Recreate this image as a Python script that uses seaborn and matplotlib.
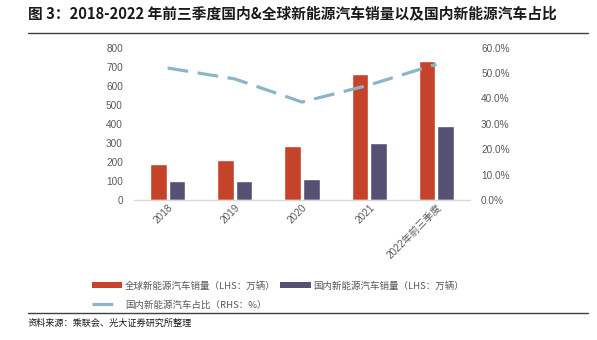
import numpy as np
import pandas as pd
import matplotlib
matplotlib.use("Agg")
import matplotlib.pyplot as plt
import seaborn as sns
from matplotlib.lines import Line2D
from matplotlib.patches import Patch
from matplotlib.ticker import FixedLocator, FuncFormatter

categories = ["2018", "2019", "2020", "2021", "2022年前三季度"]
global_sales = [189, 210, 285, 660, 728]
domestic_sales = [98, 100, 110, 299, 388]
domestic_share = [52.0, 47.7, 38.6, 45.3, 53.5]

series_global = "全球新能源汽车销量（LHS：万辆）"
series_domestic = "国内新能源汽车销量（LHS：万辆）"
series_share = "国内新能源汽车占比（RHS：%）"

c_red = "#C5432A"
c_purple = "#565073"
c_line = "#8DB5C9"
c_tick = "#595959"

sns.set_theme(style="white")
plt.rcParams["font.family"] = ["Liberation Sans", "Noto Sans CJK SC", "DejaVu Sans"]
cjk = ["Noto Sans CJK SC", "DejaVu Sans"]

df = pd.DataFrame({
    "cat": categories * 2,
    "val": global_sales + domestic_sales,
    "series": [series_global] * len(categories) + [series_domestic] * len(categories),
})

fig = plt.figure(figsize=(5.97, 3.40), dpi=100)
ax = fig.add_axes([134 / 597, 1 - 200 / 340, 336 / 597, 152.3 / 340])

sns.barplot(data=df, x="cat", y="val", hue="series", order=categories,
            palette=[c_red, c_purple], width=0.55, gap=0.1, ax=ax,
            legend=False, saturation=1)
ax.set_xlim(-0.5, len(categories) - 0.5)
ax.set_ylim(0, 800)
ax.set_yticks(range(0, 801, 100))
ax.set_xlabel("")
ax.set_ylabel("")
for s in ["top", "right", "left"]:
    ax.spines[s].set_visible(False)
ax.spines["bottom"].set_color("#D9D9D9")
ax.spines["bottom"].set_linewidth(1.0)
ax.tick_params(axis="y", length=0, labelsize=7.2, labelcolor=c_tick, pad=8)
ax.tick_params(axis="x", which="major", length=0, labelsize=7.2, labelcolor=c_tick, pad=2)
ax.xaxis.set_minor_locator(FixedLocator([0.5, 1.5, 2.5, 3.5]))
ax.tick_params(axis="x", which="minor", length=3, color="#D9D9D9", width=1.0)
for lbl in ax.get_xticklabels():
    lbl.set_rotation(45)
    lbl.set_ha("right")
    lbl.set_rotation_mode("anchor")
    lbl.set_family(["Liberation Sans", "Noto Sans CJK SC"])

ax2 = ax.twinx()
sns.lineplot(x=np.arange(len(categories)), y=domestic_share, ax=ax2,
             color=c_line, linewidth=2.3, dashes=False)
ax2.lines[0].set_dashes([6.5, 3.0])
ax2.set_ylim(0, 60)
ax2.set_yticks(range(0, 61, 10))
ax2.yaxis.set_major_formatter(FuncFormatter(lambda v, p: f"{v:.1f}%"))
ax2.tick_params(axis="y", length=0, labelsize=7.2, labelcolor=c_tick, pad=8)
for s in ["top", "right", "left", "bottom"]:
    ax2.spines[s].set_visible(False)
ax2.set_xlim(-0.5, len(categories) - 0.5)

# Title and rules
fig.text(28 / 597, 1 - 13 / 340, "图 3：2018-2022 年前三季度国内&全球新能源汽车销量以及国内新能源汽车占比",
         fontsize=10.6, fontweight="bold", va="center", ha="left",
         family=cjk, color="#1a1a1a")
fig.add_artist(Line2D([28 / 597, 588 / 597], [1 - 33 / 340] * 2, color="#404040", lw=1.0))
fig.add_artist(Line2D([28 / 597, 588 / 597], [1 - 313 / 340] * 2, color="#404040", lw=1.0))
fig.text(28 / 597, 1 - 323 / 340, "资料来源：乘联会、光大证券研究所整理",
         fontsize=6.6, va="center", ha="left", family=cjk, color="#1a1a1a")

handles = [
    Patch(facecolor=c_red, edgecolor="none", label=series_global),
    Line2D([], [], color=c_line, lw=2.3, dashes=[6.5, 3.0], label=series_share),
    Patch(facecolor=c_purple, edgecolor="none", label=series_domestic),
]
leg = fig.legend(handles=handles, ncol=2, loc="upper left",
                 bbox_to_anchor=(90 / 597, 1 - 279 / 340), frameon=False,
                 prop={"family": cjk, "size": 6.8}, handlelength=3.2,
                 handleheight=0.6, handletextpad=0.3, columnspacing=0.5,
                 labelspacing=1.0, borderaxespad=0, borderpad=0.2)
for t in leg.get_texts():
    t.set_color(c_tick)

fig.savefig("out.png", dpi=100)
